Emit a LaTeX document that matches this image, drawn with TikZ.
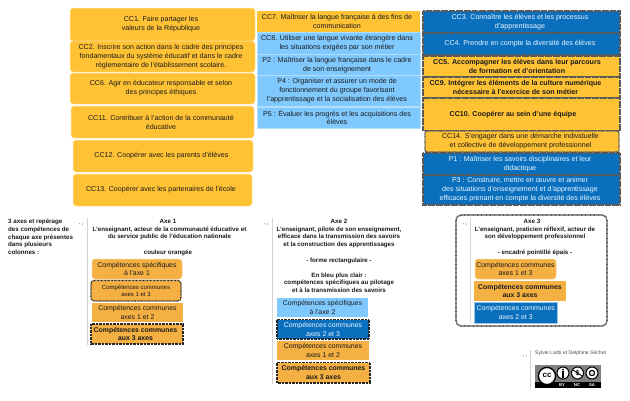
\documentclass[tikz,border=0pt]{standalone}
\usepackage{fontspec}
\setmainfont{Liberation Sans}
\definecolor{cco}{HTML}{FFC235}
\definecolor{ccl}{HTML}{80C9FF}
\definecolor{ccd}{HTML}{0A70BE}
\definecolor{axo}{HTML}{F4B042}
\definecolor{txt}{HTML}{1A1A1A}
\definecolor{rulec}{HTML}{D4D4D4}
\tikzset{
 x=1pt,y=-1pt,
 orr/.style={fill=cco,draw=white!60!cco,line width=.5pt,rounded corners=3pt},
 ors/.style={fill=cco,draw=none},
 lbl/.style={fill=ccl,draw=white!40!ccl,line width=.4pt},
 dkb/.style={fill=ccd,draw=black!65,line width=1.3pt,dash pattern=on .7pt off .45pt},
 ord/.style={fill=cco,draw=black!65,line width=1.3pt,dash pattern=on .7pt off .45pt},
 ordr/.style={ord,rounded corners=2pt},
 axr/.style={fill=axo,draw=white!40!axo,line width=.5pt,rounded corners=3pt},
 axs/.style={fill=axo,draw=none},
 axd/.style={fill=axo,draw=black!85,line width=1.2pt,dash pattern=on .8pt off .6pt},
 axdr/.style={axd,rounded corners=3pt},
 axl/.style={fill=ccl,draw=none},
 axb/.style={fill=ccd,draw=white!60!ccd,line width=.5pt},
 axbd/.style={fill=ccd,draw=black!85,line width=1.2pt,dash pattern=on .8pt off .6pt},
 tx/.style={align=center,inner sep=0pt,text=txt,xshift=-1.5pt,font=\fontsize{7.1}{8.9}\selectfont},
 txb/.style={tx,font=\fontsize{7.1}{8.9}\selectfont\bfseries},
 txw/.style={tx,text=white!85!ccl},
 txa/.style={align=center,inner sep=0pt,text=txt,font=\fontsize{6.9}{8.6}\selectfont},
 txs/.style={align=center,inner sep=0pt,text=txt,font=\fontsize{6}{7.4}\selectfont},
 txm/.style={align=center,inner sep=0pt,text=txt,font=\fontsize{6.9}{8.7}\selectfont\bfseries},
 txc/.style={align=center,inner sep=0pt,text=txt,font=\fontsize{6.2}{7.6}\selectfont\bfseries},
 tcap/.style={inner sep=0pt,text=txt,align=left,anchor=north west,font=\fontsize{6.2}{7.7}\selectfont\bfseries},
 bul/.style={inner sep=0pt,text=black!70,font=\fontsize{4.5}{5}\selectfont\bfseries},
 vr/.style={draw=rulec,line width=.8pt},
}
\newcommand{\bx}[8]{\path[#6] (#2,#3) rectangle (#4,#5);
 \node[#7] (#1) at ({(#2+#4)/2},{(#3+#5)/2}) {#8};}
\begin{document}
\begin{tikzpicture}
\path[fill=white] (0,0) rectangle (630,400);
\useasboundingbox (0,0) rectangle (630,400);
% left column
\bx{cca}{70}{8}{255}{41}{orr}{tx}{CC1. Faire partager les\\valeurs de la République}
\bx{ccb}{70}{41}{255}{72}{orr}{tx}{CC2. Inscrire son action dans le cadre des principes\\fondamentaux du système éducatif et dans le cadre\\réglementaire de l’établissement scolaire.}
\bx{ccf}{70}{73}{255}{104}{orr}{tx}{CC6. Agir en éducateur responsable et selon\\des principes éthiques}
\bx{cck}{71}{106}{254}{138}{orr}{tx}{CC11. Contribuer à l’action de la communauté\\éducative}
\bx{ccl}{73}{140}{253}{172}{orr}{tx}{CC12. Coopérer avec les parents d’élèves}
\bx{ccm}{73}{174}{252}{206}{orr}{tx}{CC13. Coopérer avec les partenaires de l’école}
% middle column
\bx{ccg}{257}{11}{420}{32}{ors}{tx}{CC7. Maîtriser la langue française à des fins de\\communication}
\bx{cch}{257}{32}{420}{54}{lbl}{tx}{CC8. Utiliser une langue vivante étrangère dans\\les situations exigées par son métier}
\bx{pb}{257}{54.5}{420}{75}{lbl}{tx}{P2 : Maîtriser la langue française dans le cadre\\de son enseignement}
\bx{pd}{257}{75.5}{420}{106}{lbl}{tx}{P4 : Organiser et assurer un mode de\\fonctionnement du groupe favorisant\\l’apprentissage et la socialisation des élèves}
\bx{pe}{257}{107}{420}{128}{lbl}{tx}{P5 : Évaluer les progrès et les acquisitions des\\élèves}
% right column
\bx{ccc}{423}{11}{620}{33}{dkb}{txw,yshift=-.5pt}{CC3. Connaître les élèves et les processus\\d’apprentissage}
\bx{ccd}{423}{33}{620}{55}{dkb}{txw}{CC4. Prendre en compte la diversité des élèves}
\bx{cce}{423}{56}{620}{76.5}{ord}{txb,xshift=-3pt}{CC5. Accompagner les élèves dans leur parcours\\de formation et d’orientation}
\bx{cci}{423}{77}{620}{98}{ord}{txb,xshift=-4.5pt}{CC9. Intégrer les éléments de la culture numérique\\nécessaire à l’exercice de son métier}
\bx{ccj}{423}{98}{620}{130.5}{ord}{txb,xshift=-7pt}{CC10. Coopérer au sein d’une équipe}
\bx{ccn}{425}{131}{619}{152}{ordr}{tx}{CC14. S’engager dans une démarche individuelle\\et collective de développement professionnel}
\bx{pa}{423}{153}{620}{174.5}{dkb}{txw}{P1 : Maîtriser les savoirs disciplinaires et leur\\didactique}
\bx{pc}{423}{175}{620}{205}{dkb}{txw}{P3 : Construire, mettre en œuvre et animer\\des situations d’enseignement et d’apprentissage\\efficaces prenant en compte la diversité des élèves}
% caption
\node[tcap] (cap) at (8,219) {3 axes et repérage\\des compétences de\\chaque axe présentes\\dans plusieurs\\colonnes :};
% axis 1
\node[bul] (ma) at (81,224) {- :};
\draw[vr] (87,218) -- (87,345);
\node[txc,anchor=north] (axa) at (169.5,219) {Axe 1\hspace*{3pt}\\L’enseignant, acteur de la communauté éducative et\\du service public de l’éducation nationale};
\node[txc] (axaa) at (168,253) {couleur orangée};
\bx{aa}{92}{259}{182}{279}{axr}{txa}{Compétences spécifiques\\à l’axe 1}
\bx{ab}{91}{280.5}{181}{301}{axdr}{txs}{Compétences communes\\axes 1 et 3}
\bx{ac}{92}{303}{183}{322}{axs}{txa}{Compétences communes\\axes 1 et 2}
\bx{ad}{91}{324}{183}{344}{axd}{txm,xshift=-1.5pt}{Compétences communes\\aux 3 axes}
% axis 2
\node[bul] (mb) at (266,224) {- :};
\draw[vr] (272,218) -- (272,384);
\node[txc,anchor=north] (axb) at (339,219) {Axe 2\\L’enseignant, pilote de son enseignement,\\efficace dans la transmission des savoirs\\et la construction des apprentissages};
\node[txc] (axbb) at (339,261) {- forme rectangulaire -};
\node[txc,anchor=north] (axbc) at (339,272.5) {En bleu plus clair :\\compétences spécifiques au pilotage\\et à la transmission des savoirs};
\bx{ba}{277}{298}{368}{317}{axl}{txa}{Compétences spécifiques\\à l’axe 2}
\bx{bb}{277}{319.5}{369}{339}{axbd}{txa,text=white!85!ccl}{Compétences communes\\axes 2 et 3}
\bx{bc}{277}{341}{369}{360}{axs}{txa}{Compétences communes\\axes 1 et 2}
\bx{bd}{277}{362.5}{370}{383}{axd}{txm}{Compétences communes\\aux 3 axes}
% axis 3
\draw[draw=black!65,line width=1.6pt,dash pattern=on .8pt off .5pt,rounded corners=5pt] (456,215) rectangle (607,326);
\node[bul] (mc) at (465,224) {- :};
\draw[vr] (470,218) -- (470,323);
\node[txc,anchor=north] (axc) at (535,219) {Axe 3\hspace*{6pt}\\L’enseignant, praticien réflexif, acteur de\\son développement professionnel};
\node[txc] (axcc) at (535,253) {- encadré pointillé épais -};
\bx{ca}{475}{259}{556}{279}{axr}{txa}{Compétences communes\\axes 1 et 3}
\bx{cb}{474}{281}{566}{301}{axs}{txm}{Compétences communes\\aux 3 axes}
\bx{cbb}{474.5}{302.5}{557}{323}{axb}{txa,text=white!85!ccl}{Compétences communes\\axes 2 et 3}
% credits
\node[bul] (md) at (525,356) {- :};
\draw[vr] (530,350) -- (530,389);
\node[inner sep=0pt,anchor=west,text=black!70,font=\fontsize{5.1}{6}\selectfont] (auth) at (535,353) {Sylvie Larbi et Delphine Séchet};
% licence badge
\fill[black!50] (534.5,365) rectangle (600.5,388);
\fill[black] (534.5,381.5) rectangle (600.5,388);
\node[inner sep=0pt,text=white,font=\fontsize{4.2}{5}\selectfont\bfseries] (by) at (562,385) {BY};
\node[inner sep=0pt,text=white,font=\fontsize{4.2}{5}\selectfont\bfseries] (nc) at (577,385) {NC};
\node[inner sep=0pt,text=white,font=\fontsize{4.2}{5}\selectfont\bfseries] (sa) at (592,385) {SA};
\draw[black,fill=white,line width=1.4pt] (547,376) circle (8.6);
\node[inner sep=0pt,font=\fontsize{8}{9}\selectfont\bfseries] (ccn2) at (547,375.5) {cc};
\draw[black,fill=white,line width=1pt] (563,373) circle (6);
\draw[black,fill=white,line width=1pt] (577.5,373) circle (6);
\draw[black,fill=white,line width=1pt] (592,373) circle (6);
\fill[black] (563,369.6) circle (1.1);
\fill[black] (561.6,371.4) rectangle (564.4,377.5);
\node[inner sep=0pt,font=\fontsize{7}{8}\selectfont\bfseries] (dol) at (577.5,373) {\$};
\draw[black,line width=.7pt] (573,370) -- (582,376);
\draw[black,line width=1.1pt] (592,373) circle (2.6);
\end{tikzpicture}
\end{document}
